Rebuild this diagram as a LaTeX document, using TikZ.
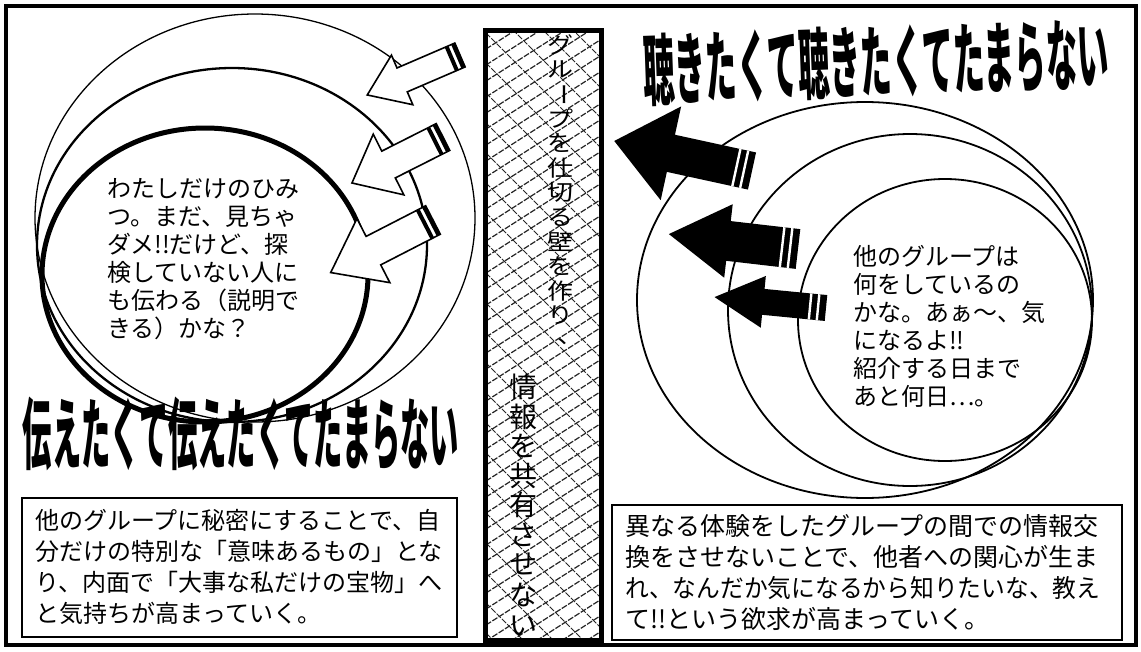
\documentclass[tikz,border=0pt]{standalone}
\usepackage{fontspec}
\usepackage{graphicx}
\newfontfamily\jp{Noto Sans CJK JP}
\newcommand{\vsq}[1]{\scalebox{1}[0.86]{#1}}
\newcommand{\whitearrow}[7]{%
  \begin{scope}[shift={(#1,#2)}, rotate=#3]
    \draw[warrow] (0,-#7) -- ({#4-#5},-#7) -- ({#4-#5},-#6) -- (#4,0) -- ({#4-#5},#6) -- ({#4-#5},#7) -- (0,#7) -- cycle;
    \fill (0,-#7) rectangle (4,#7);
    \fill (7,-#7) rectangle (11,#7);
  \end{scope}}
\newcommand{\blackarrow}[7]{%
  \begin{scope}[shift={(#1,#2)}, rotate=#3]
    \fill[black] (0,-#7) -- ({#4-#5},-#7) -- ({#4-#5},-#6) -- (#4,0) -- ({#4-#5},#6) -- ({#4-#5},#7) -- (0,#7) -- cycle;
    \draw[white, line width=2.4] (8,-#7) -- (8,#7);
    \draw[white, line width=2.4] (16,-#7) -- (16,#7);
  \end{scope}}
\begin{document}
\begin{tikzpicture}[x=1pt,y=-1pt,
  warrow/.style={draw=black, line width=1.6, fill=white, line join=miter},
  ring/.style={draw=black, line width=1.8},
  boxline/.style={draw=black, line width=2, fill=white},
  txt/.style={font=\jp\fontsize{24}{28}\selectfont, align=left, inner sep=0, anchor=north west},
  btxt/.style={font=\jp\fontsize{24}{31}\selectfont, align=left, inner sep=0, anchor=north west},
  ttl/.style={font=\jp\bfseries\fontsize{78}{78}\selectfont, inner sep=0},
  vch/.style={font=\jp\fontsize{26}{26}\selectfont, inner sep=0},
  vchb/.style={font=\jp\fontsize{28}{28}\selectfont, inner sep=0},
  hatch/.style={draw=black!85, line width=1.2, dash pattern=on 6pt off 1.5pt}
]
\useasboundingbox (0,0) rectangle (1141,651);
\fill[white] (0,0) rectangle (1141,651);
% outer frame
\draw[line width=4] (6,6) rectangle (1136,645);

% ---- left circles ----
\draw[ring, line width=1.3] (255,218) ellipse [x radius=220, y radius=204];
\draw[ring, line width=2.3] (232,245) ellipse [x radius=195, y radius=177];
\draw[ring, line width=5] (205,275) ellipse [x radius=163, y radius=147];

% ---- left white arrows ----
\whitearrow{460}{55}{-156.7}{101}{38}{27}{13}
\whitearrow{443}{137}{-153.2}{102}{41}{34}{15}
\whitearrow{433}{220}{-152.8}{115}{48}{36}{16}

% ---- right circles ----
\draw[ring] (865,300) ellipse [x radius=228, y radius=198];
\draw[ring] (910,310) ellipse [x radius=182, y radius=176];
\draw[ring] (945,320) ellipse [x radius=147, y radius=141];

% ---- right black arrows ----
\blackarrow{752}{171}{167.7}{141}{58}{48}{19}
\blackarrow{798}{249}{173.4}{130}{60}{37}{20}
\blackarrow{826}{308}{174.4}{112}{49}{26}{13}

% ---- titles ----
\node[ttl] (lefttitle) at (241,434) {\scalebox{0.375}[1]{伝えたくて伝えたくてたまらない}};
\node[ttl, rotate=2] (righttitle) at (876,62) {\scalebox{0.40}[1]{聴きたくて聴きたくてたまらない}};

% ---- circle texts ----
\node[txt] (lefttext) at (107,178) {わたしだけのひみ\\つ。まだ、見ちゃ\\ダメ!!だけど、探\\検していない人に\\も伝わる（説明で\\きる）かな？};
\node[txt] (righttext) at (853,245) {他のグループは\\何をしているの\\かな。あぁ～、気\\になるよ!!\\紹介する日まで\\あと何日…。};

% ---- bottom boxes ----
\draw[boxline] (22,498) rectangle (457,637);
\node[btxt] (leftbox) at (35,509) {他のグループに秘密にすることで、自\\分だけの特別な「意味あるもの」とな\\り、内面で「大事な私だけの宝物」へ\\と気持ちが高まっていく。};
\draw[boxline, line width=2.4] (612,505) rectangle (1122,640);
\node[btxt, font=\jp\fontsize{25}{31}\selectfont] (rightbox) at (625,514) {異なる体験をしたグループの間での情報交\\換をさせないことで、他者への関心が生ま\\\scalebox{0.95}[1]{れ、なんだか気になるから知りたいな、教え}\\て!!という欲求が高まっていく。};

% ---- central wall ----
\fill[white] (485,29) rectangle (602,641);
\begin{scope}
  \clip (488,33) rectangle (599,637);
  \foreach \i in {-2,...,46} {\draw[hatch] (486,{33+\i*16}) -- ++(125,-80);}
  \foreach \j in {-6,...,24} {\draw[hatch, line width=0.9] (486,{33+\j*30}) -- ++(125,125);}
\end{scope}
\draw[line width=5] (485.5,30) rectangle (601.5,640.5);
% column 1
\node[vch] (w1) at (560,45) {\vsq{グ}};
\node[vch] (w2) at (560,69.6) {\vsq{ル}};
\node[vch, rotate=-90] (w3) at (560,94.2) {\scalebox{0.86}[1]{ー}};
\node[vch] (w4) at (560,118.8) {\vsq{プ}};
\node[vch] (w5) at (560,143.4) {\vsq{を}};
\node[vch] (w6) at (560,168) {\vsq{仕}};
\node[vch] (w7) at (560,192.6) {\vsq{切}};
\node[vch] (w8) at (560,217.2) {\vsq{る}};
\node[vch] (w9) at (560,241.8) {\vsq{壁}};
\node[vch] (w10) at (560,266.4) {\vsq{を}};
\node[vch] (w11) at (560,291) {\vsq{作}};
\node[vch] (w12) at (560,315.6) {\vsq{り}};
\node[vch] (w13) at (570,342) {\vsq{、}};
% column 2
\node[vchb] (v1) at (523,387) {情};
\node[vchb] (v2) at (523,416.5) {報};
\node[vchb] (v3) at (523,446) {を};
\node[vchb] (v4) at (523,475.5) {共};
\node[vchb] (v5) at (523,505) {有};
\node[vchb] (v6) at (523,534.5) {さ};
\node[vchb] (v7) at (523,564) {せ};
\node[vchb] (v8) at (523,595) {な};
\node[vchb] (v9) at (523,626) {い};
\end{tikzpicture}
\end{document}
